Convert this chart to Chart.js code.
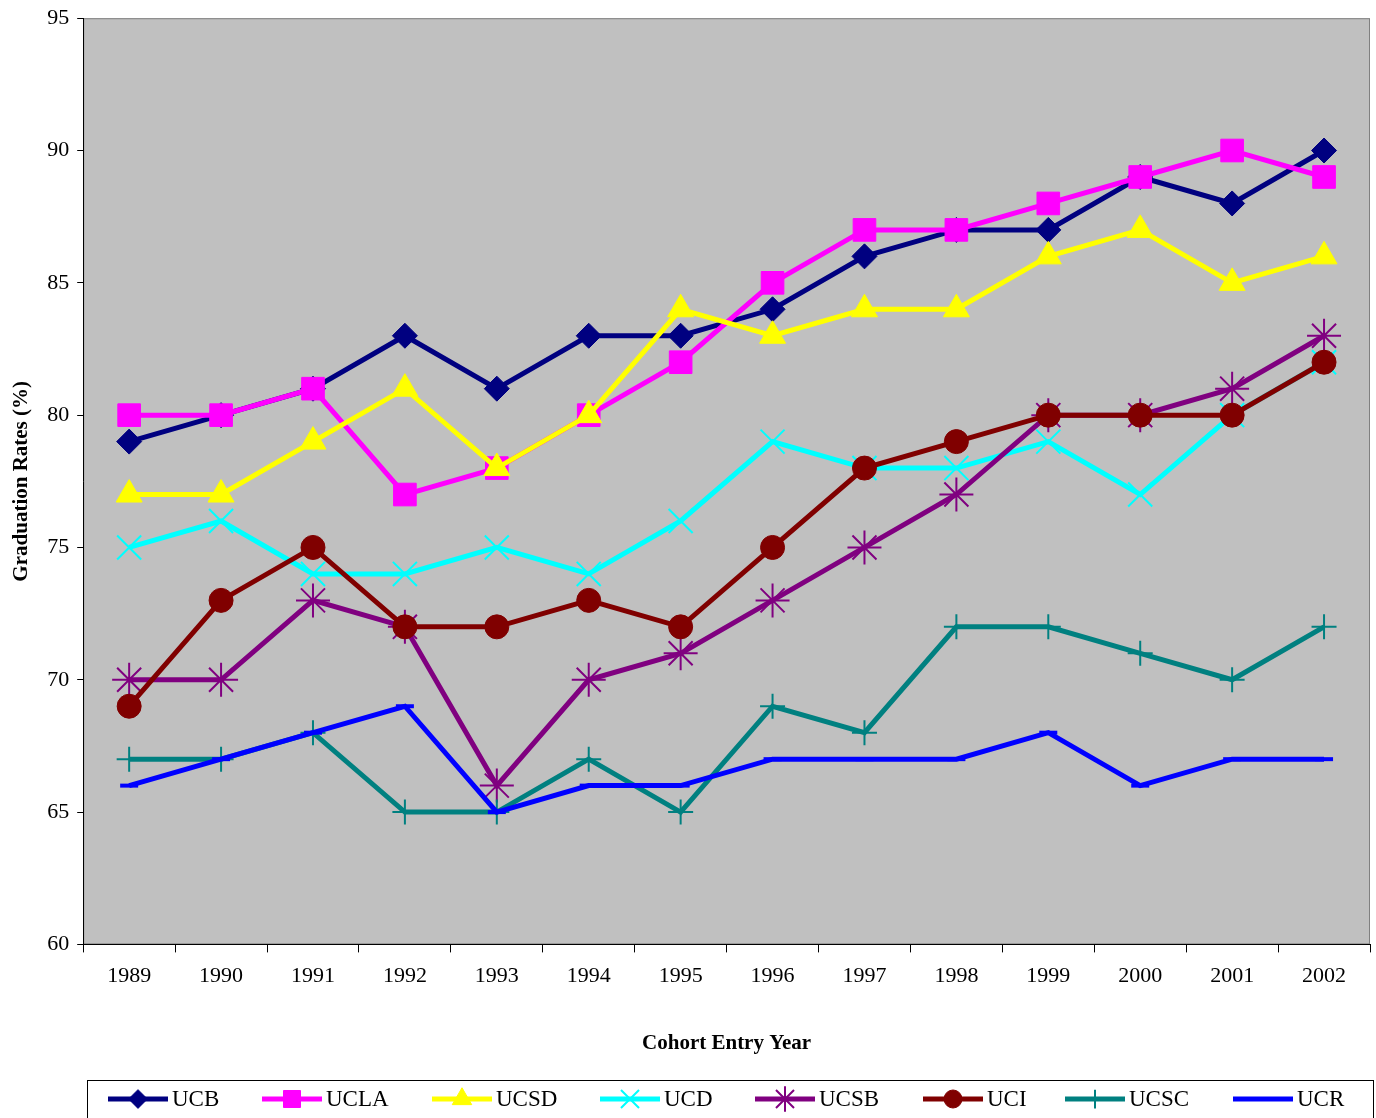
<!DOCTYPE html>
<html>
<head>
<meta charset="utf-8">
<script src="https://cdn.jsdelivr.net/npm/chart.js@4/dist/chart.umd.min.js"></script>
<style>
  html, body { margin: 0; padding: 0; background: #ffffff; overflow: hidden; }
  #wrap { width: 1376px; height: 1118px; overflow: hidden; position: relative; }
  #c { position: absolute; left: 0; top: -3px; }
</style>
</head>
<body>
<div id="wrap"><canvas id="c" width="1389" height="1121"></canvas></div>
<script>
// Годы набора и проценты выпуска по кампусам
const years = ["1989", "1990", "1991", "1992", "1993", "1994", "1995", "1996", "1997", "1998", "1999", "2000", "2001", "2002"];
const ucb  = [79, 80, 81, 83, 81, 83, 83, 84, 86, 87, 87, 89, 88, 90];
const ucla = [80, 80, 81, 77, 78, 80, 82, 85, 87, 87, 88, 89, 90, 89];
const ucsd = [77, 77, 79, 81, 78, 80, 84, 83, 84, 84, 86, 87, 85, 86];
const ucd  = [75, 76, 74, 74, 75, 74, 76, 79, 78, 78, 79, 77, 80, 82];
const ucsb = [70, 70, 73, 72, 66, 70, 71, 73, 75, 77, 80, 80, 81, 83];
const uci  = [69, 73, 75, 72, 72, 73, 72, 75, 78, 79, 80, 80, 80, 82];
const ucsc = [67, 67, 68, 65, 65, 67, 65, 69, 68, 72, 72, 71, 70, 72];
const ucr  = [66, 67, 68, 69, 65, 66, 66, 67, 67, 67, 68, 66, 67, 67];
const yTicks = [60, 65, 70, 75, 80, 85, 90, 95];

const FONT = "'Liberation Serif', 'Times New Roman', serif";

// описание серий: подпись, данные, цвет, маркер
const seriesDefs = [
  { label: "UCB",  data: ucb,  color: "#000080", style: "rectRot",  radius: 12.5, pbw: 1 },
  { label: "UCLA", data: ucla, color: "#FF00FF", style: "rect",     radius: 16,   pbw: 1 },
  { label: "UCSD", data: ucsd, color: "#FFFF00", style: "triangle", radius: 15,   pbw: 1 },
  { label: "UCD",  data: ucd,  color: "#00FFFF", style: "crossRot", radius: 17,   pbw: 2 },
  { label: "UCSB", data: ucsb, color: "#800080", style: "star",     radius: 17,   pbw: 2 },
  { label: "UCI",  data: uci,  color: "#800000", style: "circle",   radius: 12,   pbw: 1 },
  { label: "UCSC", data: ucsc, color: "#008080", style: "cross",    radius: 12.5, pbw: 2 },
  { label: "UCR",  data: ucr,  color: "#0000FF", style: "line",     radius: 9,    pbw: 4 },
];

// начало каждого элемента легенды по x
const legendX = [108, 262, 432, 600, 755, 923, 1065, 1233];
const SHIFT = 3; // canvas сдвинут вверх на 3px

const datasets = seriesDefs.map((s, i) => ({
  label: s.label,
  data: s.data,
  borderColor: s.color,
  backgroundColor: s.color,
  borderWidth: 5,
  pointStyle: s.style,
  pointRadius: s.radius,
  pointHoverRadius: s.radius,
  pointBorderWidth: s.pbw,
  pointBorderColor: s.color,
  pointBackgroundColor: s.color,
  tension: 0,
  order: seriesDefs.length - i, // поздние серии поверх, как в Excel
  clip: false,
}));

// серый фон области построения
const plotBg = {
  id: "plotBg",
  beforeDraw(chart) {
    const { ctx, chartArea: a } = chart;
    ctx.save();
    ctx.fillStyle = "#C0C0C0";
    ctx.fillRect(a.left, a.top, a.right - a.left, a.bottom - a.top);
    ctx.strokeStyle = "#808080";
    ctx.lineWidth = 1;
    ctx.strokeRect(a.left + 0.5, a.top + 0.5, a.right - a.left - 1, a.bottom - a.top - 1);
    ctx.restore();
  },
};

// легенда внизу: рамка, линия с маркером и подпись
const bottomLegend = {
  id: "bottomLegend",
  afterDraw(chart) {
    const { ctx } = chart;
    ctx.save();
    ctx.strokeStyle = "#000000";
    ctx.lineWidth = 1;
    ctx.strokeRect(87.5, 1080.5 + SHIFT, 1286, 40);
    const yc = 1099 + SHIFT;
    seriesDefs.forEach((s, i) => {
      const x0 = legendX[i];
      ctx.strokeStyle = s.color;
      ctx.lineWidth = 5;
      ctx.beginPath();
      ctx.moveTo(x0, yc);
      ctx.lineTo(x0 + 60, yc);
      ctx.stroke();
      ctx.fillStyle = s.color;
      ctx.strokeStyle = s.color;
      ctx.lineWidth = s.pbw;
      Chart.helpers.drawPoint(ctx, { pointStyle: s.style, radius: s.radius * 0.75, borderWidth: s.pbw, rotation: 0 }, x0 + 30, yc);
      ctx.fillStyle = "#000000";
      ctx.font = "23px " + FONT;
      ctx.textBaseline = "middle";
      ctx.textAlign = "left";
      ctx.fillText(s.label, x0 + 64, yc + 1);
    });
    ctx.restore();
  },
};

new Chart(document.getElementById("c"), {
  type: "line",
  data: { labels: years, datasets },
  plugins: [plotBg, bottomLegend],
  options: {
    responsive: false,
    animation: false,
    events: [],
    layout: { padding: { top: 3, right: 0, bottom: 62, left: 9 } },
    plugins: {
      legend: { display: false },
      tooltip: { enabled: false },
    },
    scales: {
      x: {
        offset: true,
        grid: {
          offset: true,
          drawOnChartArea: false,
          drawTicks: true,
          tickLength: 8,
          color: "#000000",
        },
        border: { display: true, color: "#000000", width: 1 },
        ticks: {
          color: "#000000",
          font: { family: FONT, size: 22 },
          padding: 11,
          maxRotation: 0,
        },
        title: {
          display: true,
          text: "Cohort Entry Year",
          color: "#000000",
          font: { family: FONT, size: 21, weight: "bold" },
          padding: { top: 30, bottom: 0 },
        },
      },
      y: {
        min: 60,
        max: 95,
        afterBuildTicks(scale) {
          scale.ticks = yTicks.map(v => ({ value: v }));
        },
        grid: {
          drawOnChartArea: false,
          drawTicks: true,
          tickLength: 6,
          color: "#000000",
        },
        border: { display: true, color: "#000000", width: 1 },
        ticks: {
          color: "#000000",
          font: { family: FONT, size: 22 },
          padding: 8,
        },
        title: {
          display: true,
          text: "Graduation Rates (%)",
          color: "#000000",
          font: { family: FONT, size: 21, weight: "bold" },
          padding: { top: 0, bottom: 5 },
        },
      },
    },
  },
});
</script>
</body>
</html>
